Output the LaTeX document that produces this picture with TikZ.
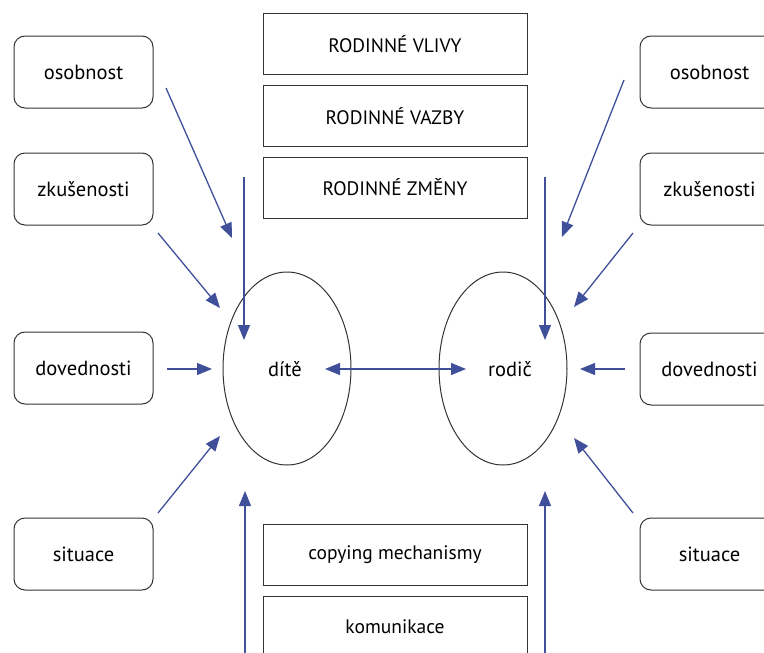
\documentclass[tikz,border=0pt]{standalone}
\usepackage{fontspec}
\setmainfont{PT Sans}
\usetikzlibrary{arrows.meta,shapes.geometric}
\definecolor{arrc}{HTML}{3F4F9A}
\definecolor{linec}{HTML}{333333}
\begin{document}
\begin{tikzpicture}[x=1pt,y=-1pt,
  rbox/.style={draw=linec, line width=1pt, rounded corners=11pt, minimum width=139pt, minimum height=72pt, font=\fontsize{20.5}{24}\selectfont},
  cbox/.style={draw=linec, line width=1pt, minimum width=264pt, minimum height=61pt, font=\fontsize{19.5}{24}\selectfont},
  oval/.style={draw=linec, line width=1pt, ellipse, inner sep=0pt, minimum width=128pt, minimum height=193pt},
  lbl/.style={font=\fontsize{20.5}{24}\selectfont},
  arr/.style={draw=arrc, line width=1.3pt, -{Triangle[length=15pt,width=12pt]}},
  darr/.style={draw=arrc, line width=1.3pt, {Triangle[length=15pt,width=12pt]}-{Triangle[length=15pt,width=12pt]}},
]
\clip (0,0) rectangle (764,653);
% left boxes
\node[rbox] (lo) at (83.5,72) {osobnost};
\node[rbox] (lz) at (83.5,189) {zkušenosti};
\node[rbox] (ld) at (83.5,368) {dovednosti};
\node[rbox] (ls) at (83.5,554) {situace};
% right boxes
\node[rbox] (ro) at (709.5,72) {osobnost};
\node[rbox] (rz) at (709.5,189) {zkušenosti};
\node[rbox] (rd) at (709.5,369) {dovednosti};
\node[rbox] (rs) at (709.5,554) {situace};
% center boxes
\node[cbox] (vlivy) at (395,44) {RODINNÉ VLIVY};
\node[cbox] (vazby) at (395,116) {RODINNÉ VAZBY};
\node[cbox] (zmeny) at (395,187.5) {RODINNÉ ZMĚNY};
\node[cbox] (cop) at (395,555) {copying mechanismy};
\node[cbox, minimum height=70pt] (kom) at (395,631) {};
\node[font=\fontsize{19.5}{24}\selectfont] (komt) at (395,627) {komunikace};
% ellipses
\node[oval] (dite) at (287,368.5) {};
\node[oval] (rodic) at (503,368.5) {};
\node[lbl] (ditet) at (285,369) {dítě};
\node[lbl] (rodict) at (510,369) {rodič};
% arrow end coordinates
\coordinate (a1s) at (166,88);  \coordinate (a1e) at (232,238);
\coordinate (a2s) at (158,233); \coordinate (a2e) at (220,308);
\coordinate (a3s) at (167,369); \coordinate (a3e) at (212,369);
\coordinate (a4s) at (158,513); \coordinate (a4e) at (220,436);
\coordinate (b1s) at (624,80);  \coordinate (b1e) at (562,237);
\coordinate (b2s) at (633,233); \coordinate (b2e) at (574,307);
\coordinate (b3s) at (625,369); \coordinate (b3e) at (580,369);
\coordinate (b4s) at (633,513); \coordinate (b4e) at (574,438);
\coordinate (v1s) at (244,177); \coordinate (v1e) at (244,340);
\coordinate (v2s) at (545,177); \coordinate (v2e) at (545,340);
\coordinate (u1s) at (245,660); \coordinate (u1e) at (245,491);
\coordinate (u2s) at (545,660); \coordinate (u2e) at (545,491);
\coordinate (dl) at (325,369);  \coordinate (dr) at (466,369);
% arrows
\draw[arr] (a1s) -- (a1e);
\draw[arr] (a2s) -- (a2e);
\draw[arr] (a3s) -- (a3e);
\draw[arr] (a4s) -- (a4e);
\draw[arr] (b1s) -- (b1e);
\draw[arr] (b2s) -- (b2e);
\draw[arr] (b3s) -- (b3e);
\draw[arr] (b4s) -- (b4e);
\draw[arr] (v1s) -- (v1e);
\draw[arr] (v2s) -- (v2e);
\draw[arr] (u1s) -- (u1e);
\draw[arr] (u2s) -- (u2e);
\draw[darr] (dl) -- (dr);
\end{tikzpicture}
\end{document}
